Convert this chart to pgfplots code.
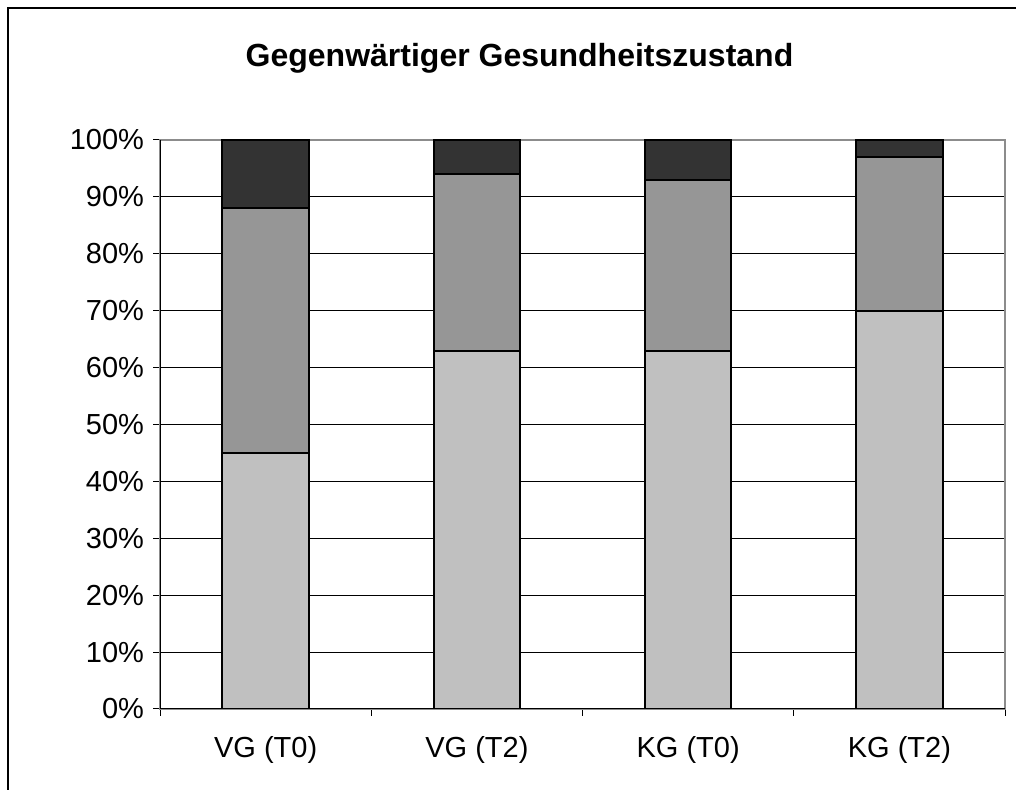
\documentclass[border=0pt]{standalone}
\usepackage{fontspec}
\setmainfont{Liberation Sans}
\usepackage{pgfplots}
\pgfplotsset{compat=1.18}
\definecolor{cA}{HTML}{C0C0C0}
\definecolor{cB}{HTML}{969696}
\definecolor{cC}{HTML}{333333}
\begin{document}
\begin{tikzpicture}
\useasboundingbox (0,0) rectangle (508pt,395pt);
\draw[line width=1pt] (4pt,-2pt) -- (4pt,391pt) -- (510pt,391pt);
\node[font=\fontsize{16}{19}\selectfont\bfseries] at (259.75pt,366pt) {Gegenwärtiger Gesundheitszustand};
\begin{axis}[
  at={(80pt,40.5pt)}, anchor=south west,
  scale only axis, width=422.5pt, height=284.5pt,
  ybar stacked, bar width=0.41,
  xmin=-0.5, xmax=3.5, ymin=0, ymax=100,
  xtick={-0.5,0.5,1.5,2.5,3.5},
  xticklabels={},
  extra x ticks={0,1,2,3},
  extra x tick labels={VG (T0),VG (T2),KG (T0),KG (T2)},
  extra x tick style={major tick length=0pt, xticklabel style={yshift=-10pt}},
  ytick={0,10,...,100},
  yticklabel={\pgfmathprintnumber{\tick}\%},
  /pgf/number format/assume math mode=true,
  tick pos=left, tick align=outside,
  major tick length=3.5pt,
  tick style={black, line width=0.5pt},
  ymajorgrids, grid style={black, line width=0.5pt},
  axis line style={draw=gray!90, line width=1pt},
  ticklabel style={font=\fontsize{14.5}{17}\selectfont},
  yticklabel style={xshift=-1pt},
  every axis plot/.append style={draw=black, line width=1pt},
]
\addplot[fill=cA] coordinates {(0,45) (1,63) (2,63) (3,70)};
\addplot[fill=cB] coordinates {(0,43) (1,31) (2,30) (3,27)};
\addplot[fill=cC] coordinates {(0,12) (1,6) (2,7) (3,3)};
\draw[black, line width=0.75pt] (axis cs:-0.5,100) -- (axis cs:-0.5,0) -- (axis cs:3.5,0);
\end{axis}
\end{tikzpicture}
\end{document}
